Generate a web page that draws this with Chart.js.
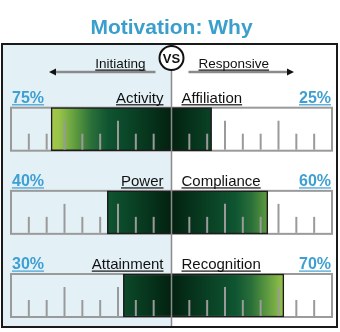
<!DOCTYPE html>
<html>

<head>
  <title>Motivation: Why</title>
  <script src="https://cdn.jsdelivr.net/npm/chart.js"></script>
  <style>
    body {
      margin: 0;
      padding: 0;
      background: #ffffff;
    }

    #chartBox {
      width: 340px;
      height: 332px;
    }
  </style>
</head>

<body>
  <div id="chartBox">
    <canvas id="whyChart"></canvas>
  </div>

  <script>
    // Each row pairs an Initiating motive (left) with a Responsive one (right)
    const rows = ["Activity / Affiliation", "Power / Compliance", "Attainment / Recognition"];
    const leftLabels = ["Activity", "Power", "Attainment"];
    const rightLabels = ["Affiliation", "Compliance", "Recognition"];
    const initiatingValues = [75, 40, 30];
    const responsiveValues = [25, 60, 70];

    // ruler marks: 9 steps per side, long mark every 3rd step
    const stepsPerSide = 9;
    const majorEvery = 3;

    const FONT = "'Liberation Sans', Arial, sans-serif";
    const BLUE = "#3e9fd3";
    const TICK_GRAY = "#9a9a9a";

    // dark in the middle, turning yellow-green towards the ends
    const gradientStops = [
      [0, "#02210f"],
      [0.25, "#0a4326"],
      [0.4, "#0f5531"],
      [0.5, "#2b7039"],
      [0.6, "#5f9c40"],
      [0.7, "#98c349"],
      [0.8, "#b3cd4b"],
      [1, "#c0d352"],
    ];

    function barGradient(context) {
      const chart = context.chart;
      const x = chart.scales.x;
      if (!chart.chartArea || !x) return "#0b4a2b";
      const g = chart.ctx.createLinearGradient(x.getPixelForValue(-100), 0, x.getPixelForValue(100), 0);
      gradientStops.forEach(([d, c]) => {
        g.addColorStop(0.5 - d / 2, c);
        g.addColorStop(0.5 + d / 2, c);
      });
      return g;
    }

    function underlined(ctx, text, x, y, align, font, color) {
      ctx.font = font;
      ctx.fillStyle = color;
      ctx.textAlign = align;
      ctx.textBaseline = "alphabetic";
      ctx.fillText(text, x, y);
      const w = ctx.measureText(text).width;
      const x0 = align === "right" ? x - w : align === "center" ? x - w / 2 : x;
      ctx.fillRect(x0, y + 1.5, w, 1.2);
    }

    function rowBoxes(chart) {
      const meta = chart.getDatasetMeta(0);
      return meta.data.map((bar) => ({ top: bar.y - bar.height / 2, bottom: bar.y + bar.height / 2 }));
    }

    const framePlugin = {
      id: "frame",
      beforeDraw(chart) {
        const ctx = chart.ctx;
        const mid = chart.scales.x.getPixelForValue(0);
        ctx.save();
        ctx.fillStyle = "#ffffff";
        ctx.fillRect(0, 0, chart.width, chart.height);
        ctx.fillStyle = "#e3f1f7";
        ctx.fillRect(3, 45, mid - 3, 282);
        ctx.restore();
      },
      beforeDatasetsDraw(chart) {
        const ctx = chart.ctx;
        const x = chart.scales.x;
        const left = x.getPixelForValue(-100);
        const right = x.getPixelForValue(100);
        ctx.save();
        ctx.strokeStyle = TICK_GRAY;
        ctx.lineWidth = 2;
        rowBoxes(chart).forEach((b) => {
          ctx.strokeRect(left, b.top, right - left, b.bottom - b.top);
        });
        ctx.restore();
      },
      afterDatasetsDraw(chart) {
        const ctx = chart.ctx;
        const x = chart.scales.x;
        const mid = x.getPixelForValue(0);
        const left = x.getPixelForValue(-100);
        const right = x.getPixelForValue(100);
        const boxes = rowBoxes(chart);
        ctx.save();

        // ruler marks on top of the bars
        ctx.strokeStyle = TICK_GRAY;
        ctx.lineWidth = 2;
        boxes.forEach((b) => {
          for (let k = 1; k < stepsPerSide; k++) {
            const len = k % majorEvery === 0 ? 29 : 16;
            [-1, 1].forEach((side) => {
              const px = x.getPixelForValue((side * k * 100) / stepsPerSide);
              ctx.beginPath();
              ctx.moveTo(px, b.bottom - 1);
              ctx.lineTo(px, b.bottom - 1 - len);
              ctx.stroke();
            });
          }
        });

        // centre divider
        ctx.strokeStyle = "#8a8a8a";
        ctx.lineWidth = 1.5;
        ctx.beginPath();
        ctx.moveTo(mid, 45);
        ctx.lineTo(mid, 327);
        ctx.stroke();

        // outer frame
        ctx.strokeStyle = "#1a1a1a";
        ctx.lineWidth = 2;
        ctx.strokeRect(2, 44, 335, 283);

        // VS badge
        ctx.fillStyle = "#ffffff";
        ctx.strokeStyle = "#111111";
        ctx.lineWidth = 2;
        ctx.beginPath();
        ctx.arc(mid, 58, 12, 0, Math.PI * 2);
        ctx.fill();
        ctx.stroke();
        ctx.fillStyle = "#111111";
        ctx.font = "bold 13px " + FONT;
        ctx.textAlign = "center";
        ctx.textBaseline = "middle";
        ctx.fillText("VS", mid, 59);

        // direction arrows
        const arrowY = 72;
        ctx.strokeStyle = "#8a8a8a";
        ctx.lineWidth = 2.5;
        ctx.beginPath();
        ctx.moveTo(mid - 16, arrowY);
        ctx.lineTo(left + 44, arrowY);
        ctx.moveTo(mid + 17, arrowY);
        ctx.lineTo(right - 44, arrowY);
        ctx.stroke();
        ctx.fillStyle = "#111111";
        ctx.beginPath();
        ctx.moveTo(left + 38, arrowY);
        ctx.lineTo(left + 45, arrowY - 3.5);
        ctx.lineTo(left + 45, arrowY + 3.5);
        ctx.closePath();
        ctx.moveTo(right - 38, arrowY);
        ctx.lineTo(right - 45, arrowY - 3.5);
        ctx.lineTo(right - 45, arrowY + 3.5);
        ctx.closePath();
        ctx.fill();
        underlined(ctx, "Initiating", mid - 26, 68, "right", "13.5px " + FONT, "#111111");
        underlined(ctx, "Responsive", mid + 27, 68, "left", "13.5px " + FONT, "#111111");

        // row captions with their percentages
        boxes.forEach((b, i) => {
          const base = b.top - 5;
          underlined(ctx, initiatingValues[i] + "%", left + 1, base, "left", "bold 16px " + FONT, BLUE);
          underlined(ctx, leftLabels[i], mid - 8, base, "right", "15px " + FONT, "#111111");
          underlined(ctx, rightLabels[i], mid + 10, base, "left", "15px " + FONT, "#111111");
          underlined(ctx, responsiveValues[i] + "%", right - 1, base, "right", "bold 16px " + FONT, BLUE);
        });

        ctx.restore();
      },
    };

    const barStyle = {
      backgroundColor: barGradient,
      borderColor: "#1c1c1c",
      borderWidth: 1.5,
      barThickness: 43,
      clip: false,
    };

    new Chart(document.getElementById("whyChart"), {
      type: "bar",
      data: {
        labels: rows,
        datasets: [
          Object.assign({ label: "Initiating", data: initiatingValues.map((v) => -v) }, barStyle),
          Object.assign({ label: "Responsive", data: responsiveValues }, barStyle),
        ],
      },
      options: {
        indexAxis: "y",
        responsive: true,
        maintainAspectRatio: false,
        animation: false,
        layout: {
          padding: { left: 11, right: 8, top: 0, bottom: 36.5 },
        },
        scales: {
          x: { display: false, stacked: true, min: -100, max: 100 },
          y: { display: false, stacked: true, offset: false },
        },
        plugins: {
          legend: { display: false },
          tooltip: { enabled: false },
          title: {
            display: true,
            text: "Motivation: Why",
            color: "#3a9fcc",
            font: { family: FONT, size: 21, weight: "bold" },
            padding: { top: 16, bottom: 88 },
          },
        },
      },
      plugins: [framePlugin],
    });
  </script>
</body>

</html>
